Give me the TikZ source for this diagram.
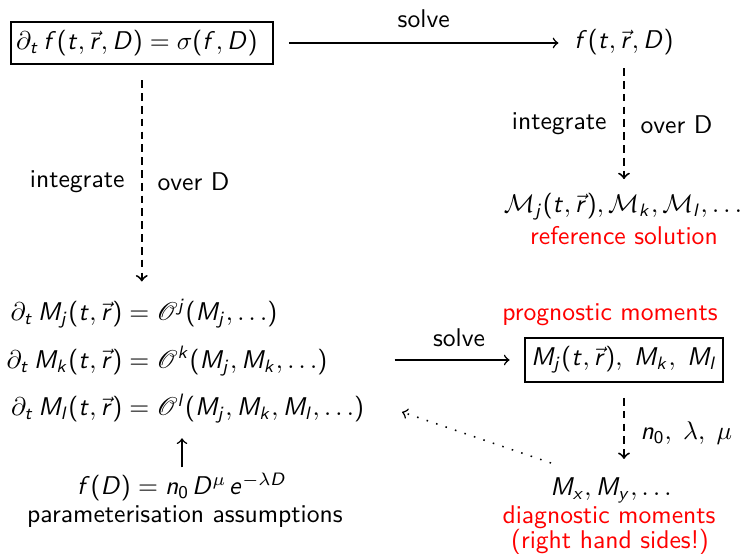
\documentclass[tikz,border=0pt]{standalone}
\usepackage{mathrsfs}
\renewcommand{\familydefault}{\sfdefault}
\DeclareSymbolFont{sfletters}{OT1}{cmss}{m}{sl}
\SetSymbolFont{operators}{normal}{OT1}{cmss}{m}{n}
\DeclareMathSymbol{D}{\mathalpha}{sfletters}{`D}
\DeclareMathSymbol{M}{\mathalpha}{sfletters}{`M}
\DeclareMathSymbol{f}{\mathalpha}{sfletters}{`f}
\DeclareMathSymbol{t}{\mathalpha}{sfletters}{`t}
\DeclareMathSymbol{r}{\mathalpha}{sfletters}{`r}
\DeclareMathSymbol{j}{\mathalpha}{sfletters}{`j}
\DeclareMathSymbol{k}{\mathalpha}{sfletters}{`k}
\DeclareMathSymbol{l}{\mathalpha}{sfletters}{`l}
\DeclareMathSymbol{x}{\mathalpha}{sfletters}{`x}
\DeclareMathSymbol{y}{\mathalpha}{sfletters}{`y}
\DeclareMathSymbol{n}{\mathalpha}{sfletters}{`n}
\DeclareMathSymbol{e}{\mathalpha}{sfletters}{`e}
\begin{document}
\begin{tikzpicture}[x=0.39pt,y=-0.39pt,
  every node/.style={font=\sffamily},
  lbl/.style={inner sep=0pt},
  box/.style={draw, line width=0.8pt},
  conn/.style={->, line width=0.6pt},
  dconn/.style={->, line width=0.75pt, dash pattern=on 3pt off 2pt},
  dotconn/.style={->, line width=0.6pt, dash pattern=on 0.6pt off 3.3pt},
  redtext/.style={lbl, text=red}]
\useasboundingbox (0,0) rectangle (743,554);

% top row
\node[box, anchor=west, minimum height=16pt, text width=98pt, align=left, inner xsep=2pt] (pde) at (10,43)
  {$\partial_t\, f(t,\vec r,D)=\sigma(f,D)$};
\node[lbl] (f) at (624,42) {$f(t,\vec r,D)$};
\draw[conn, shorten <=6pt, shorten >=6pt] (pde.east) -- (pde.east -| f.west)
  node[midway, yshift=9.4pt] {solve};

% right column top
\node[lbl] (Mref) at (623,207) {$\mathcal{M}_j(t,\vec r), \mathcal{M}_k, \mathcal{M}_l, \ldots$};
\node[redtext] (ref) at (624,236) {reference solution};
\draw[dconn, shorten <=5pt, shorten >=5.5pt] (f.south) -- (f.south |- Mref.north);
\node[lbl, anchor=base east] (int2) at (607,130) {integrate};
\node[lbl, anchor=base west] (ovr2) at (640,134) {over D};

% left column
\node[lbl, anchor=west] (eqs) at (6,362) {$\begin{array}{@{}r@{\;=\;}l@{}}
  \partial_t\, M_j(t,\vec r) & \mathscr{O}^j(M_j,\ldots)\\[6.5pt]
  \partial_t\, M_k(t,\vec r) & \mathscr{O}^k(M_j,M_k,\ldots)\\[6.5pt]
  \partial_t\, M_l(t,\vec r) & \mathscr{O}^l(M_j,M_k,M_l,\ldots)
\end{array}$};
\draw[dconn, shorten <=5.8pt, shorten >=6.6pt] (pde.south) -- (pde.south |- eqs.north);
\node[lbl, anchor=base east] (int1) at (125,188) {integrate};
\node[lbl, anchor=base west] (ovr1) at (157,191) {over D};

\node[lbl] (fD) at (182,487) {$f(D)=n_0\mkern2mu D^{\mu}\mkern2mu e^{-\lambda D}$};
\node[lbl] (par) at (185,517) {parameterisation assumptions};
\draw[conn] ([yshift=2pt]fD.north) -- ++(0,-29);

% right column bottom
\node[redtext] (prog) at (610,315) {prognostic moments};
\node[box, minimum height=16pt, inner xsep=2.5pt] (mbox) at (624,360)
  {$M_j(t,\vec r),\; M_k,\; M_l$};
\draw[conn, shorten >=14*0.39pt] (mbox.west) +(-129,0) -- (mbox.west)
  node[pos=0.5, yshift=8.6pt] {solve};
\node[lbl] (Mx) at (611,490) {$M_x, M_y, \ldots$};
\node[redtext] (diag) at (609,517) {diagnostic moments};
\node[redtext] (rhs) at (610,542) {(right hand sides!)};
\draw[dconn, shorten <=5.9pt, shorten >=7pt] (mbox.south) -- (mbox.south |- Mx.north);
\node[lbl, anchor=west] (par2) at (640,433) {$n_0,\; \lambda,\; \mu$};

\coordinate (dotS) at (551,463);
\coordinate (dotE) at (402,412);
\draw[dotconn] (dotS) -- (dotE);
\end{tikzpicture}
\end{document}
